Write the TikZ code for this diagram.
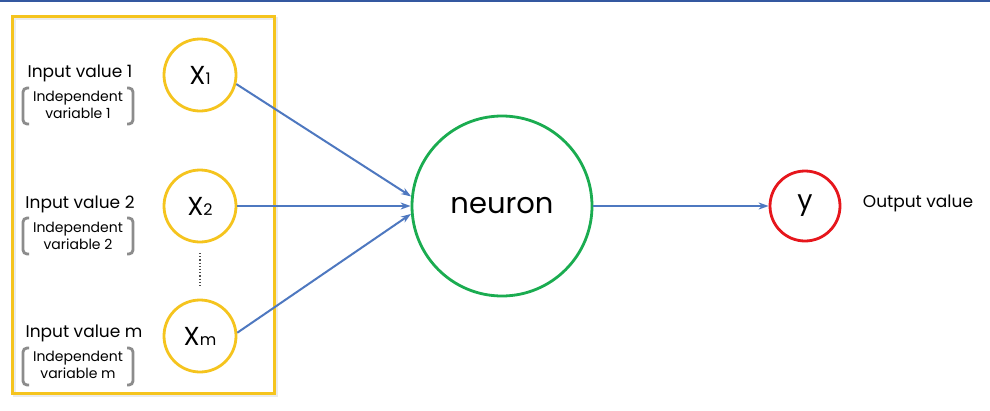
\documentclass[tikz,border=0pt]{standalone}
\usepackage{fontspec}
\setmainfont{Poppins}
\usetikzlibrary{arrows.meta}
\definecolor{ybox}{RGB}{245,196,30}
\definecolor{ngreen}{RGB}{26,172,80}
\definecolor{yred}{RGB}{230,22,28}
\definecolor{arrblue}{RGB}{78,120,192}
\definecolor{topblue}{RGB}{52,88,160}
\definecolor{brgray}{RGB}{140,140,140}
\tikzset{
  incircle/.style={circle, draw=ybox, line width=2.8pt, fill=white, minimum size=72pt, inner sep=0pt},
  lbl/.style={font=\fontsize{17}{19}\selectfont, inner sep=0pt},
  small/.style={font=\fontsize{14}{16.5}\selectfont, align=center, inner sep=0pt},
  conn/.style={draw=arrblue, line width=2pt, -{Stealth[length=10pt,width=7pt]}},
  brk/.style={draw=brgray, line width=2.8pt, rounded corners=4pt}
}
\newcommand{\xsym}[1]{{\fontsize{26}{26}\selectfont X}{\fontsize{16}{16}\selectfont #1}}
\begin{document}
\begin{tikzpicture}[x=1pt,y=-1pt]
\useasboundingbox (0,0) rectangle (990,410);
\fill[white] (0,0) rectangle (990,410);
\draw[topblue, line width=2pt] (0,1) -- (990,1);
% shadow + box
\draw[black!8, line width=3pt] (14.5,18.5) rectangle (276.5,395.5);
\draw[ybox, line width=3pt] (12,16) rectangle (274,393);
% input circles
\node[incircle] (x1) at (200,75) {\xsym{1}};
\node[incircle] (x2) at (200,206) {\xsym{2}};
\node[incircle] (xm) at (200,336) {\xsym{m}};
\coordinate (d1) at (200,253);
\coordinate (d2) at (200,288);
\draw[black!70, line width=1.2pt, dotted] (d1) -- (d2);
% labels
\node[lbl] (l1) at (80,73) {Input value 1};
\node[small] (s1) at (78,105) {Independent\\variable 1};
\node[lbl] (l2) at (80,204) {Input value 2};
\node[small] (s2) at (78,236) {Independent\\variable 2};
\node[lbl] (l3) at (84,333) {Input value m};
\node[small] (s3) at (78,365) {Independent\\variable m};
% brackets
\foreach \t/\b in {88/124, 218/254, 348/385}{
  \draw[brk] (29,\t) -- (23,\t) -- (23,\b) -- (29,\b);
  \draw[brk] (127,\t) -- (133,\t) -- (133,\b) -- (127,\b);
}
% neuron and output
\node[circle, draw=ngreen, line width=2.8pt, minimum size=180pt, inner sep=0pt, font=\fontsize{29}{29}\selectfont] (n) at (502,206) {neuron};
\node[circle, draw=yred, line width=2.8pt, minimum size=70pt, inner sep=0pt, font=\fontsize{27}{27}\selectfont] (y) at (805,206) {y};
\node[lbl] (out) at (918,203) {Output value};
% connectors
\draw[conn] (x1.-14) -- (n.174);
\draw[conn] (x2.east) -- (n.180);
\draw[conn] (xm.5) -- (n.185);
\draw[conn] (n.east) -- (y.west);
\end{tikzpicture}
\end{document}
